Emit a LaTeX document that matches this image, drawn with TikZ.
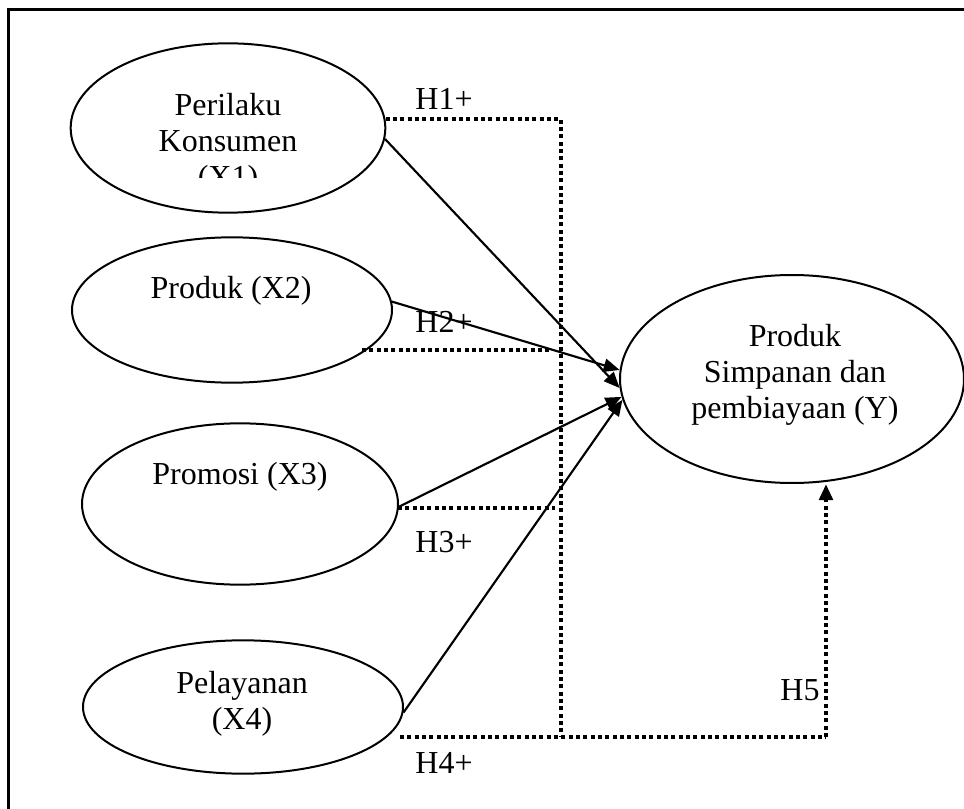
\documentclass[tikz,border=0pt]{standalone}
\usepackage{fontspec}
\setmainfont{Liberation Serif}
\usetikzlibrary{shapes.geometric,arrows.meta}
\begin{document}
\begin{tikzpicture}[x=0.75pt,y=-0.75pt,
  ell/.style={ellipse,draw,line width=1.5pt,inner sep=0pt},
  lbl/.style={font=\fontsize{24}{27}\selectfont,align=center,inner sep=0pt},
  solidarr/.style={line width=1.6pt,-{Triangle[length=12pt,width=10pt]}},
  dotline/.style={line width=3pt,dash pattern=on 3pt off 2.5pt},
  framel/.style={line width=1.6pt}]
\useasboundingbox (0,0) rectangle (964,809);
% frame
\draw[framel] (8.5,809) -- (8.5,9.5) -- (964,9.5);
% ellipses
\node[ell,minimum width=236pt,minimum height=127pt] (x1) at (228,128) {};
\node[ell,minimum width=240pt,minimum height=109pt] (x2) at (232,310) {};
\node[ell,minimum width=237pt,minimum height=121pt] (x3) at (240,504) {};
\node[ell,minimum width=240pt,minimum height=100pt] (x4) at (243,707) {};
\node[ell,minimum width=258pt,minimum height=156pt] (y) at (792,379) {};
% texts
\begin{scope}
\clip (60,40) rectangle (400,178);
\node[lbl] (t1) at (228,143.5) {Perilaku\\Konsumen\\(X1)};
\end{scope}
\node[lbl] (t2) at (231,291) {Produk (X2)};
\node[lbl] (t3) at (240,477) {Promosi (X3)};
\node[lbl] (t4) at (242,704) {Pelayanan\\(X4)};
\node[lbl] (ty) at (795,375) {Produk\\Simpanan dan\\pembiayaan (Y)};
% hypothesis labels
\node[lbl] (h1) at (444,99) {H1+};
\node[lbl] (h2) at (444,322) {H2+};
\node[lbl] (h3) at (444,542) {H3+};
\node[lbl] (h4) at (444,763) {H4+};
\node[lbl] (h5) at (800,690) {H5};
% dotted connectors
\coordinate (c1) at (561,119);
\coordinate (c4) at (561,737);
\coordinate (c5) at (826,737);
\coordinate (h2s) at (362,350);
\coordinate (h2e) at (550,350);
\coordinate (h3s) at (398,508);
\coordinate (h3e) at (555,508);
\coordinate (h4s) at (400,737);
\draw[dotline] (c1 -| x1.3) -- (c1) -- (c4);
\draw[dotline] (h2s) -- (h2e);
\draw[dotline] (h3s) -- (h3e);
\draw[dotline] (h4s) -- (c4) -- (c5);
\draw[dotline,-{Triangle[length=12pt,width=10pt]}] (c5) -- (c5 |- y.south);
% solid arrows
\draw[solidarr] (x1.-4.6) -- (y.183);
\draw[solidarr] (x2.3) -- (y.177.3);
\draw[solidarr] (x3.-1) -- (y.186);
\draw[solidarr] (x4.-2) -- (y.187);
\end{tikzpicture}
\end{document}
